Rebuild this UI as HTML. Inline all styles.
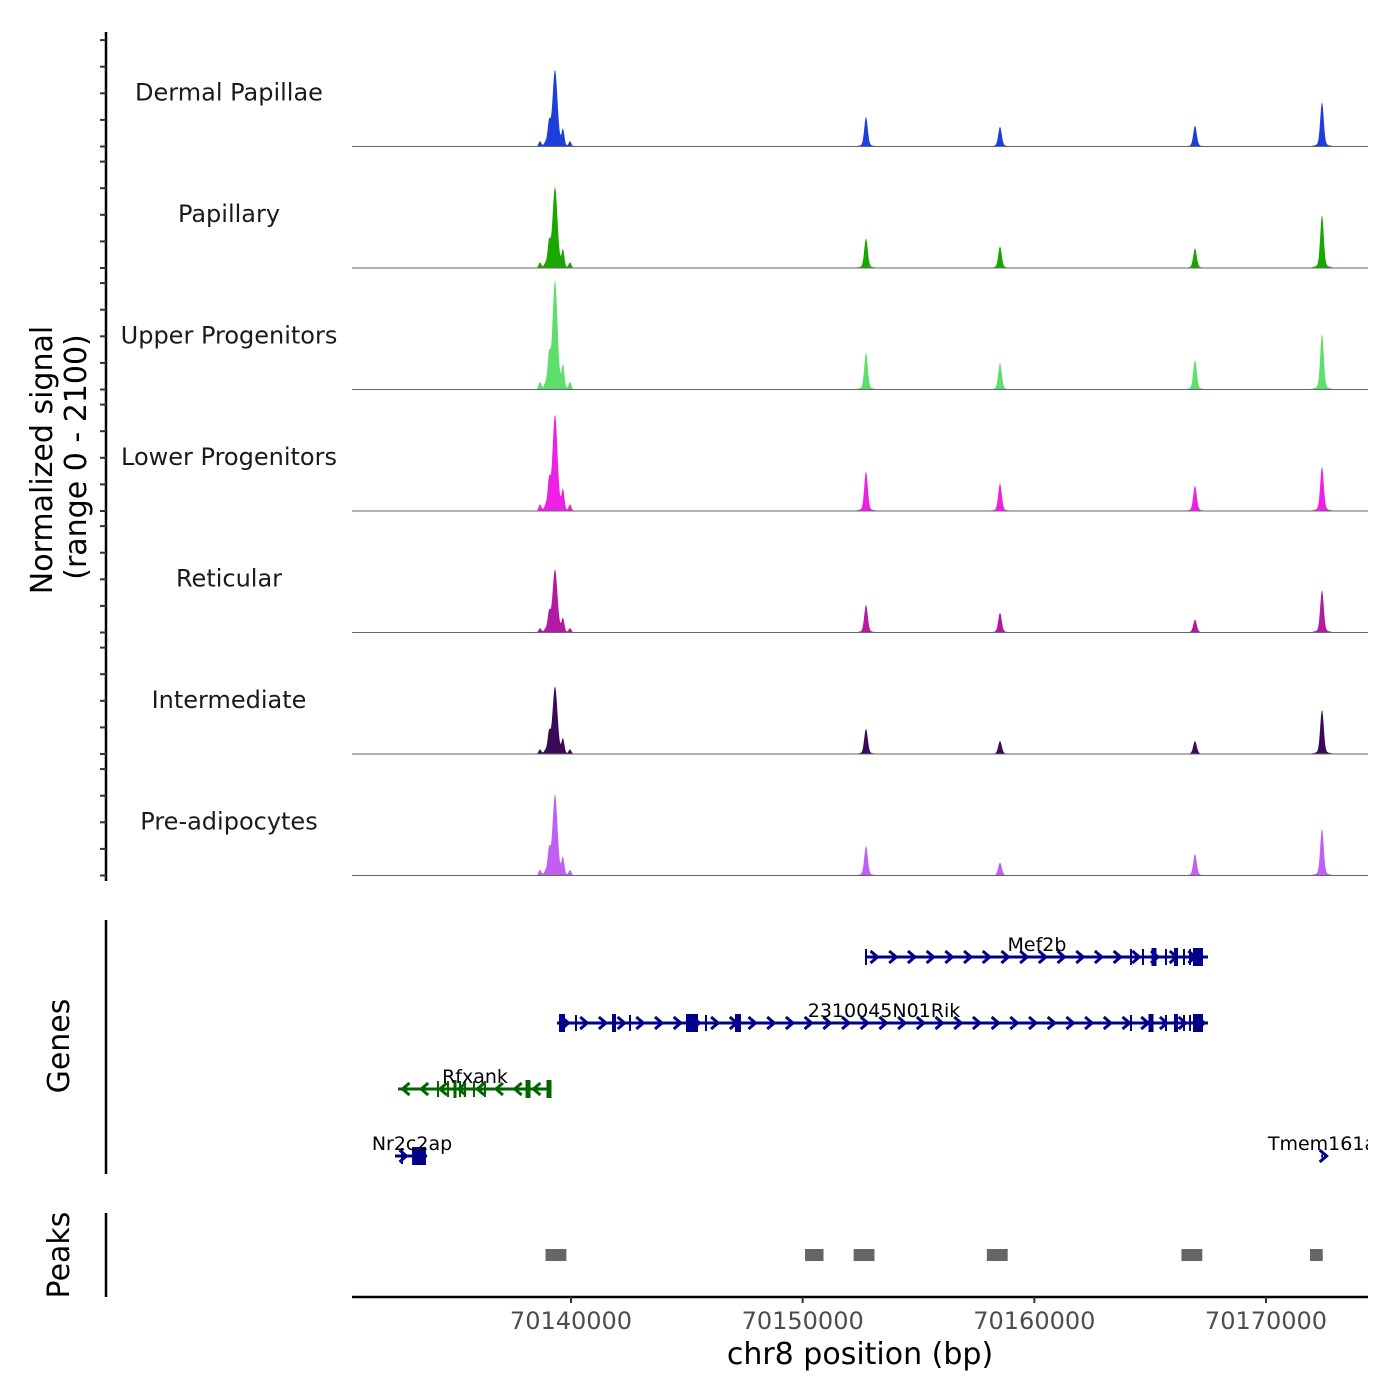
<!DOCTYPE html>
<html><head><meta charset="utf-8"><style>
html,body{margin:0;padding:0;background:#fff;}
svg{display:block;font-family:"DejaVu Sans","Liberation Sans",sans-serif;}
</style></head><body>
<svg id="chart" width="1400" height="1400" viewBox="0 0 1400 1400" xmlns="http://www.w3.org/2000/svg"></svg>
<script>
// ---- data ----
const trackNames = ["Dermal Papillae","Papillary","Upper Progenitors","Lower Progenitors","Reticular","Intermediate","Pre-adipocytes"];
const trackColors = ["#1f3fdc","#1aa800","#5ede6a","#f01fe6","#b21aa2","#3a0a58","#c060f2"];
const peakCenters = [70139309,70152734,70158518,70166935,70172417];
const dpHeights    = [1250,480,320,340,720];
const papHeights   = [1320,480,350,320,860];
const upHeights    = [1780,600,430,480,900];
const lowHeights   = [1570,640,450,410,720];
const retHeights   = [1030,450,320,210,690];
const intHeights   = [1100,410,210,210,720];
const preHeights   = [1320,480,210,350,760];
const trackHeights = [dpHeights,papHeights,upHeights,lowHeights,retHeights,intHeights,preHeights];
// shoulder peaks near the main peak: position and fraction of main height
const shoulderPos  = [70138662,70139050,70139654,70139957,70138900];
const shoulderFrac = [0.07,0.3,0.22,0.07,0.05];
const xTicks = [70140000,70150000,70160000,70170000];
const genes = [
 {name:"Mef2b",start:70152734,end:70167496,strand:1,row:0,color:"#00008b",
  exons:[[70152734,43],[70164172,43],[70164690,86],[70165165,215],[70165683,86],[70166115,172],[70166460,86],[70166719,86],[70167064,432]]},
 {name:"2310045N01Rik",start:70139396,end:70167496,strand:1,row:1,color:"#00008b",
  exons:[[70139612,260],[70140216,43],[70141856,172],[70142547,43],[70145223,518],[70145827,86],[70147209,260],[70164172,43],[70165036,215],[70165683,86],[70166115,172],[70166460,86],[70166719,86],[70167064,432]]},
 {name:"Rfxank",start:70132532,end:70139137,strand:-1,row:2,color:"#006400",
  exons:[[70134259,43],[70134691,43],[70134993,130],[70135209,43],[70135425,43],[70135813,43],[70136288,43],[70138144,215],[70139050,215]]},
 {name:"Nr2c2ap",start:70132403,end:70133784,strand:1,row:3,color:"#00008b",
  exons:[[70132705,43],[70133440,600]]},
 {name:"Tmem161a",start:70172380,end:70172460,strand:1,row:3,color:"#00008b",exons:[]}
];
const peakRegions = [[70138900,70139800],[70150100,70150900],[70152200,70153100],[70157950,70158850],[70166350,70167250],[70171900,70172450]];

// ---- scales ----
const X0=352,X1=1368;
const bp0=70140000, pxPer=695/30000;
function xs(bp){return 571+(bp-bp0)*pxPer;}
const baselines=[146.5,268,389.5,511,632.5,754,875.5];
const trackPx=121.5, maxVal=2100;
function ys(v,i){return baselines[i]-v/maxVal*trackPx;}

const svg=document.getElementById('chart');
const NS="http://www.w3.org/2000/svg";
function el(tag,attrs,parent){const e=document.createElementNS(NS,tag);for(const k in attrs)e.setAttribute(k,attrs[k]);(parent||svg).appendChild(e);return e;}
function txt(s,attrs,parent){const t=el('text',attrs,parent);t.textContent=s;return t;}

// left axis
let g=el('g',{});


el('line',{x1:106,y1:32,x2:106,y2:881,stroke:'#000','stroke-width':2.5},g);
baselines.forEach(b=>{for(let k=0;k<5;k++){const y=b-k*26.6;if(y<34)continue;el('line',{x1:100,x2:106,y1:y,y2:y,stroke:'#333','stroke-width':2},g);}});
let t=txt('Normalized signal',{x:0,y:0,'font-size':30,'text-anchor':'middle',transform:'translate(52,460) rotate(-90)',fill:'#000'});


t=txt('(range 0 - 2100)',{x:0,y:0,'font-size':30,'text-anchor':'middle',transform:'translate(86,457) rotate(-90)',fill:'#000'});



// tracks
function profile(bp,hs){
  let v=0;
  peakCenters.forEach((c,j)=>{const s=j===0?105:75;v+=hs[j]*Math.exp(-Math.pow((bp-c)/s,2)/2);
    v+=hs[j]*0.06*Math.exp(-Math.pow((bp-c)/260,2)/2);});
  shoulderPos.forEach((p,j)=>{v+=hs[0]*shoulderFrac[j]*Math.exp(-Math.pow((bp-p)/60,2)/2);});
  return v;
}
trackNames.forEach((n,i)=>{
  const tg=el('g',{});
  
  
  let d='M'+X0+','+baselines[i];
  for(let px=X0;px<=X1;px+=0.5){const bp=bp0+(px-571)/pxPer;d+=' L'+px+','+ys(profile(bp,trackHeights[i]),i).toFixed(2);}
  d+=' L'+X1+','+baselines[i]+' Z';
  const p=el('path',{d:d,fill:trackColors[i]},tg);
  
  
  el('line',{x1:X0,x2:X1,y1:baselines[i],y2:baselines[i],stroke:'#666','stroke-width':1},tg);
  const l=txt(n,{x:229,y:baselines[i]-46,'font-size':24,'text-anchor':'middle',fill:'#1a1a1a'},tg);
  
  
});

// genes panel
g=el('g',{});


el('line',{x1:106,y1:920,x2:106,y2:1174,stroke:'#000','stroke-width':2.5},g);
t=txt('Genes',{x:0,y:0,'font-size':30,'text-anchor':'middle',transform:'translate(69,1046) rotate(-90)'},g);


const rowY=[957,1023,1089,1156];
const clip=el('clipPath',{id:'gclip'});el('rect',{x:X0-10,y:900,width:X1-X0+10,height:300},clip);
const gg=el('g',{'clip-path':'url(#gclip)'},g);
const labelX={"Mef2b":1037,"2310045N01Rik":884,"Rfxank":475,"Nr2c2ap":412,"Tmem161a":1322};
genes.forEach(ge=>{
  const y=rowY[ge.row];const c=ge.color;
  const gr=el('g',{},gg);
  
  
  const xa=xs(ge.start),xb=xs(ge.end);
  el('line',{x1:xa,x2:xb,y1:y,y2:y,stroke:c,'stroke-width':3},gr);
  const single=ge.name==='Tmem161a';
  for(let x=single?xa+2:xa+8;x<=(single?xa+2:xb-4);x+=18.7){
    const dx=ge.strand*3.5;
    el('polyline',{points:(x-dx)+','+(y-6)+' '+(x+dx)+','+y+' '+(x-dx)+','+(y+6),fill:'none',stroke:c,'stroke-width':3},gr);
  }
  ge.exons.forEach(e=>{const w=Math.max(2,e[1]*pxPer);const h=w>3?9:8;
    el('rect',{x:xs(e[0])-w/2,y:y-h,width:w,height:2*h,fill:c},gr);});
  txt(ge.name,{x:labelX[ge.name],y:y-6,'font-size':19,'text-anchor':'middle',fill:'#000'},gr);
});

// peaks panel
g=el('g',{});


el('line',{x1:106,y1:1213,x2:106,y2:1297,stroke:'#000','stroke-width':2.5},g);
t=txt('Peaks',{x:0,y:0,'font-size':30,'text-anchor':'middle',transform:'translate(69,1255) rotate(-90)'},g);


peakRegions.forEach(r=>{
  const rr=el('rect',{x:xs(r[0]),y:1249,width:xs(r[1])-xs(r[0]),height:12,fill:'#666'},g);
  
  
});

// x axis
g=el('g',{});


el('line',{x1:X0,x2:X1,y1:1297,y2:1297,stroke:'#000','stroke-width':2.5},g);
xTicks.forEach(v=>{
  el('line',{x1:xs(v),x2:xs(v),y1:1297,y2:1303,stroke:'#333','stroke-width':2},g);
  const tl=txt(String(v),{x:xs(v),y:1329,'font-size':24,'text-anchor':'middle',fill:'#4d4d4d'},g);
  
  
});
t=txt('chr8 position (bp)',{x:860,y:1364,'font-size':30,'text-anchor':'middle',fill:'#000'},g);


</script>
</body></html>
